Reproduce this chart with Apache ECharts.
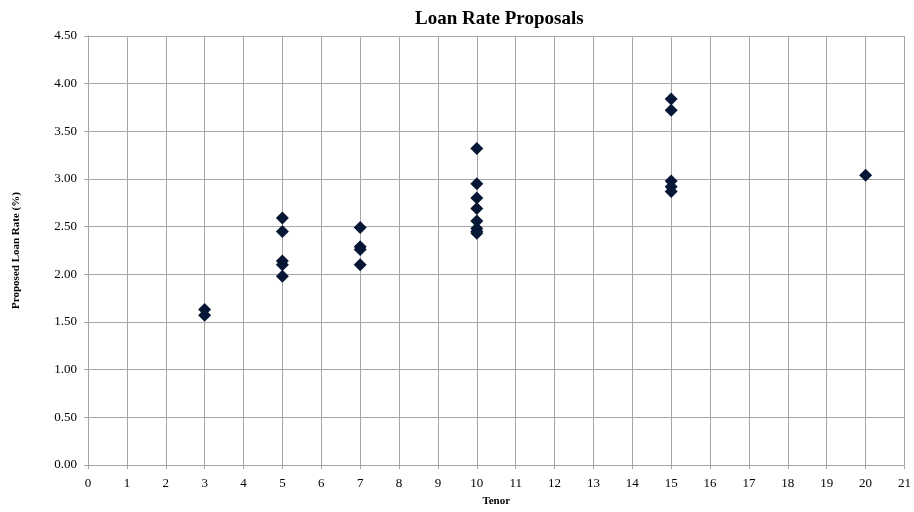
<!DOCTYPE html>
<html>
<head>
<meta charset="utf-8">
<script src="https://cdn.jsdelivr.net/npm/echarts@6/dist/echarts.min.js"></script>
<style>
  html, body { margin: 0; padding: 0; background: #ffffff; overflow: hidden; }
  #chart { width: 914px; height: 512px; }
</style>
</head>
<body>
<div id="chart"></div>
<script>
// Proposed loan rates (%) grouped by tenor (years)
const tenors = [3, 3, 5, 5, 5, 5, 5, 7, 7, 7, 7, 10, 10, 10, 10, 10, 10, 10, 10, 15, 15, 15, 15, 15, 20];
const rates  = [1.63, 1.57, 2.59, 2.45, 2.14, 2.10, 1.98, 2.49, 2.29, 2.26, 2.10,
                3.32, 2.95, 2.80, 2.69, 2.56, 2.48, 2.45, 2.43,
                3.84, 3.72, 2.98, 2.92, 2.87, 3.04];

const titleText = 'Loan Rate Proposals';
const xAxisTitle = 'Tenor';
const yAxisTitle = 'Proposed Loan Rate (%)';

const points = tenors.map((t, i) => [t, rates[i]]);

const serif = '"Liberation Serif", "Times New Roman", serif';
const gridColor = '#a6a6a6';

const chart = echarts.init(document.getElementById('chart'), null, { renderer: 'canvas' });
chart.setOption({
  backgroundColor: '#ffffff',
  animation: false,
  title: {
    text: titleText,
    left: 410,
    top: 5,
    textStyle: { fontFamily: serif, fontSize: 19, fontWeight: 'bold', color: '#000000' }
  },
  grid: { left: 88, right: 8, top: 36, bottom: 44, containLabel: false },
  xAxis: {
    type: 'value',
    min: 0,
    max: 21,
    interval: 1,
    name: xAxisTitle,
    nameLocation: 'middle',
    nameGap: 31,
    nameTextStyle: { fontFamily: serif, fontSize: 11, fontWeight: 'bold', color: '#000000' },
    axisLine: { show: true, lineStyle: { color: gridColor, width: 1 } },
    axisTick: { show: true, length: 4, lineStyle: { color: gridColor } },
    axisLabel: { fontFamily: serif, fontSize: 13, color: '#000000', margin: 12 },
    splitLine: { show: true, lineStyle: { color: gridColor, width: 1 } }
  },
  yAxis: {
    type: 'value',
    min: 0,
    max: 4.5,
    interval: 0.5,
    name: yAxisTitle,
    nameLocation: 'middle',
    nameGap: 66,
    nameRotate: 90,
    nameTextStyle: { fontFamily: serif, fontSize: 11, fontWeight: 'bold', color: '#000000' },
    axisLine: { show: true, lineStyle: { color: gridColor, width: 1 } },
    axisTick: { show: true, length: 4, lineStyle: { color: gridColor } },
    axisLabel: {
      fontFamily: serif, fontSize: 13, color: '#000000', margin: 11,
      formatter: v => v.toFixed(2)
    },
    splitLine: { show: true, lineStyle: { color: gridColor, width: 1 } }
  },
  series: [{
    type: 'scatter',
    data: points,
    symbol: 'diamond',
    symbolSize: 13,
    itemStyle: { color: '#061735', opacity: 1 }
  }]
});
</script>
</body>
</html>
